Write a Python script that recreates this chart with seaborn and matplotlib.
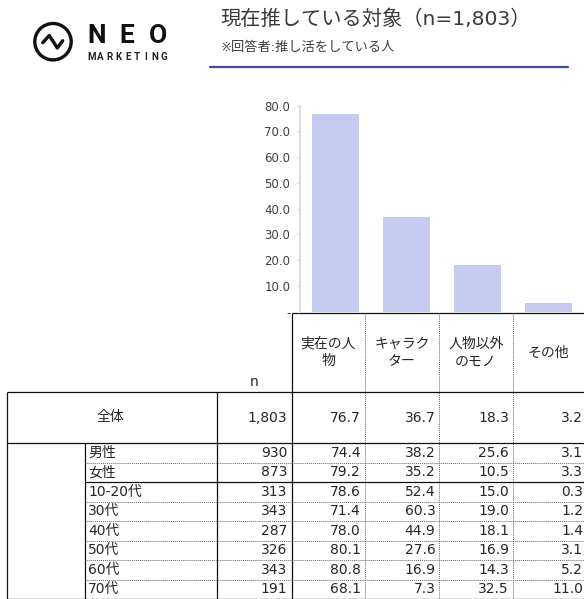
import numpy as np
import matplotlib
matplotlib.use("Agg")
import matplotlib.pyplot as plt
from matplotlib.patches import Circle
import seaborn as sns

# data
categories = ["実在の人\n物", "キャラク\nター", "人物以外\nのモノ", "その他"]
overall_label = "全体"
overall_n = 1803
overall = [76.7, 36.7, 18.3, 3.2]

groups = ["男性", "女性", "10-20代", "30代", "40代", "50代", "60代", "70代"]
group_n = [930, 873, 313, 343, 287, 326, 343, 191]
real_person = [74.4, 79.2, 78.6, 71.4, 78.0, 80.1, 80.8, 68.1]
character = [38.2, 35.2, 52.4, 60.3, 44.9, 27.6, 16.9, 7.3]
non_person = [25.6, 10.5, 15.0, 19.0, 18.1, 16.9, 14.3, 32.5]
other = [3.1, 3.3, 0.3, 1.2, 1.4, 3.1, 5.2, 11.0]

y_ticks = [0, 10, 20, 30, 40, 50, 60, 70, 80]
y_tick_labels = ["-", "10.0", "20.0", "30.0", "40.0", "50.0", "60.0", "70.0", "80.0"]

title = f"現在推している対象（n={overall_n:,}）"
subtitle = "※回答者:推し活をしている人"

sns.set_theme(style="white")
plt.rcParams["font.family"] = ["DejaVu Sans", "Noto Sans CJK JP"]

W, H = 584, 599
fig = plt.figure(figsize=(W / 100, H / 100), dpi=100)
fig.patch.set_facecolor("white")

# overlay in pixel coords for header, logo and table
tab = fig.add_axes([0, 0, 1, 1])
tab.set_xlim(0, W)
tab.set_ylim(H, 0)
tab.axis("off")


def px_axes(l, t, r, b):
    return fig.add_axes([l / W, 1 - b / H, (r - l) / W, (b - t) / H])


# bar chart
ax = px_axes(300, 105.7, 584, 311.7)
ax.patch.set_alpha(0)
sns.barplot(x=categories, y=overall, color="#c4cbef", saturation=1,
            width=0.67, linewidth=0, ax=ax)
ax.set_xlim(-0.5, 3.5)
ax.set_ylim(0, 80)
ax.set_yticks(y_ticks)
ax.set_yticklabels(y_tick_labels)
ax.set_xticks([])
ax.set_xlabel("")
ax.set_ylabel("")
for s in ["top", "right", "bottom"]:
    ax.spines[s].set_visible(False)
ax.spines["left"].set_color("#d9d9d9")
ax.spines["left"].set_linewidth(1.2)
ax.tick_params(axis="y", left=True, length=2.5, width=1, color="#d9d9d9",
               pad=4.5, labelsize=8.5, labelcolor="#404040")

# header: logo and title
tab.add_patch(Circle((53, 41.7), 18.2, fill=False, lw=2.4, ec="#111111"))
tab.plot([42.7, 49.3, 57.3, 62.7], [42.7, 35.5, 48, 40.7], color="#111111", lw=2.4)
for ch, x in zip("NEO", [96.7, 126.3, 157.5]):
    tab.text(x, 36, ch, ha="center", va="center", fontsize=19,
             fontweight="bold", family="Roboto", color="#111111")
for ch, x in zip("MARKETING", np.linspace(91.5, 164, 9)):
    tab.text(x, 56.5, ch, ha="center", va="center", fontsize=7,
             fontweight="bold", family="Roboto", color="#222222")

tab.text(220, 19, title, fontsize=14.6, va="center", color="#3a3a3a")
tab.text(221, 47.5, subtitle, fontsize=9.5, va="center", color="#404040")
tab.plot([210, 568], [66.7, 66.7], color="#3b4fa0", lw=1.6)

# table
solid = dict(color="#111111", lw=0.9, solid_capstyle="butt")
dot = dict(color="#666666", lw=0.7, linestyle=(0, (1, 1)))
txt = dict(fontsize=10, color="#262626", va="center")

col_x = [291.7, 365, 439, 513, 584]
val_right = [361, 435.5, 509, 583]
n_right = 287
top_box = 312.7
all_top = 391.7
row_top = 443.3
row_h = 19.46
bottom = 598.6

# header box
tab.plot([col_x[0], W], [top_box, top_box], **solid)
tab.plot([col_x[0], col_x[0]], [top_box, bottom], **solid)
for x in col_x[1:4]:
    tab.plot([x, x], [top_box, bottom], **dot)
for i, c in enumerate(categories):
    cx = (col_x[i] + col_x[i + 1]) / 2
    tab.text(cx, 352.5, c, ha="center", multialignment="center",
             linespacing=1.35, **txt)
tab.text(254, 382, "n", ha="center", **txt)

# overall row
tab.plot([6.7, W], [all_top, all_top], **solid)
tab.plot([6.7, W], [row_top, row_top], **solid)
tab.plot([6.7, 6.7], [all_top, bottom], **solid)
tab.plot([217.3, 217.3], [all_top, bottom], **solid)
tab.plot([85, 85], [row_top, bottom], **solid)
yc = (all_top + row_top) / 2
tab.text(110, yc, overall_label, ha="center", **txt)
tab.text(n_right, yc, f"{overall_n:,}", ha="right", **txt)
for v, xr in zip(overall, val_right):
    tab.text(xr, yc, f"{v:.1f}", ha="right", **txt)

# group rows
series = [real_person, character, non_person, other]
for i, g in enumerate(groups):
    y0 = row_top + i * row_h
    yc = y0 + row_h / 2
    if i > 0:
        style = solid if i == 2 else dot
        tab.plot([85, W], [y0, y0], **style)
    tab.text(88, yc, g, ha="left", **txt)
    tab.text(n_right, yc, f"{group_n[i]:,}", ha="right", **txt)
    for s, xr in zip(series, val_right):
        tab.text(xr, yc, f"{s[i]:.1f}", ha="right", **txt)
tab.plot([6.7, W], [bottom, bottom], **solid)

fig.savefig("out.png", dpi=100)
